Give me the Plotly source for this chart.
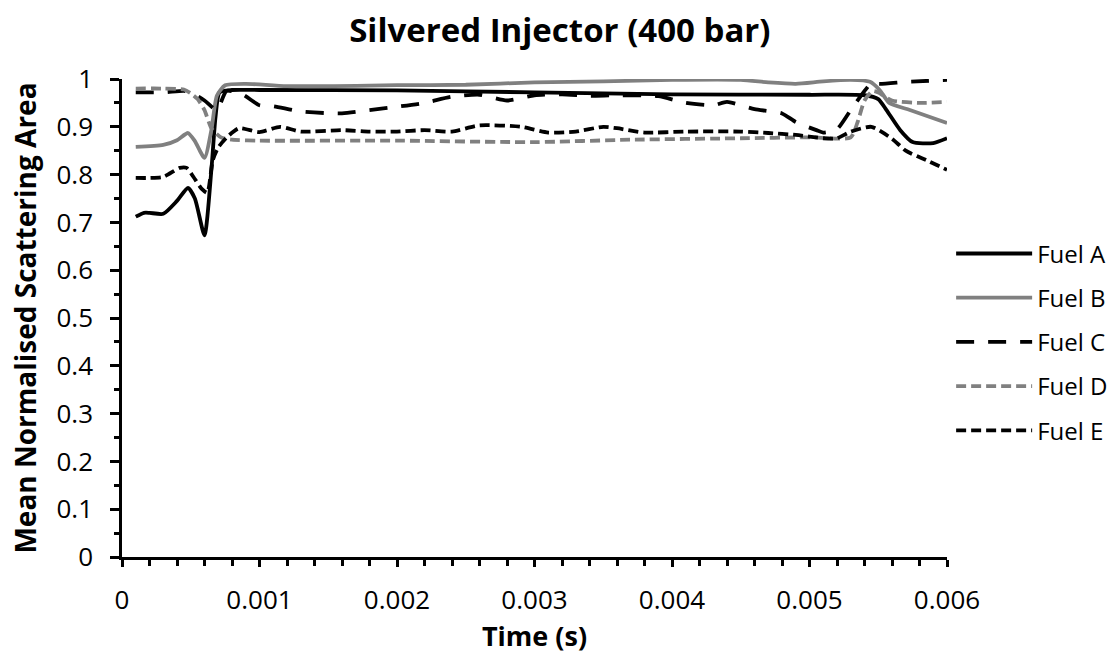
import plotly.graph_objects as go

# ---- data ----
t_a = [0.0001, 0.00016, 0.0002, 0.0003, 0.0004, 0.00048, 0.00053, 0.0006, 0.00065, 0.00068, 0.00071, 0.0008,
       0.001, 0.002, 0.003, 0.004, 0.005, 0.0054, 0.0055, 0.00556, 0.00566, 0.00575, 0.0059, 0.006]
v_a = [0.712, 0.72, 0.72, 0.718, 0.745, 0.772, 0.75, 0.673, 0.81, 0.92, 0.972, 0.977,
       0.977, 0.976, 0.972, 0.968, 0.967, 0.966, 0.958, 0.935, 0.893, 0.868, 0.866, 0.876]

t_b = [0.0001, 0.0003, 0.0004, 0.00048, 0.00053, 0.0006, 0.00065, 0.00069, 0.00075, 0.0009, 0.0012, 0.002,
       0.0025, 0.003, 0.0035, 0.004, 0.0045, 0.0047, 0.0049, 0.0051, 0.0053, 0.00544, 0.00551, 0.00558,
       0.00573, 0.006]
v_b = [0.858, 0.862, 0.872, 0.887, 0.87, 0.835, 0.893, 0.965, 0.987, 0.99, 0.985, 0.987,
       0.988, 0.993, 0.995, 0.998, 0.998, 0.993, 0.99, 0.995, 0.998, 0.994, 0.977, 0.95,
       0.935, 0.908]

t_c = [0.0001, 0.0003, 0.00045, 0.0005, 0.0006, 0.00069, 0.00076, 0.00088, 0.001, 0.0011, 0.0013, 0.0016,
       0.0018, 0.002, 0.0022, 0.0024, 0.0026, 0.0028, 0.003, 0.0032, 0.0034, 0.0036, 0.0039, 0.0041,
       0.0043, 0.0044, 0.0046, 0.0048, 0.0049, 0.00505, 0.0051, 0.0052, 0.0053, 0.0054, 0.00546, 0.0055,
       0.0057, 0.006]
v_c = [0.972, 0.972, 0.975, 0.972, 0.955, 0.935, 0.975, 0.967, 0.945, 0.943, 0.932, 0.928,
       0.935, 0.942, 0.95, 0.963, 0.967, 0.955, 0.966, 0.968, 0.965, 0.966, 0.964, 0.95,
       0.945, 0.952, 0.937, 0.928, 0.91, 0.893, 0.888, 0.895, 0.935, 0.975, 0.994, 0.99,
       0.994, 0.998]

t_d = [0.0001, 0.0003, 0.00045, 0.0005, 0.00055, 0.0006, 0.00065, 0.00072, 0.0008, 0.001, 0.002, 0.003,
       0.0037, 0.0045, 0.005, 0.0053, 0.00535, 0.0054, 0.00546, 0.0055, 0.0056, 0.0058, 0.006]
v_d = [0.98, 0.98, 0.978, 0.97, 0.958, 0.935, 0.897, 0.878, 0.873, 0.871, 0.871, 0.868,
       0.873, 0.876, 0.878, 0.878, 0.91, 0.955, 0.975, 0.972, 0.955, 0.95, 0.952]

t_e = [0.0001, 0.0002, 0.0003, 0.00042, 0.00047, 0.00052, 0.00058, 0.00062, 0.00066, 0.0007, 0.00077, 0.00085,
       0.001, 0.00115, 0.0013, 0.0016, 0.0018, 0.002, 0.0022, 0.0024, 0.0026, 0.0029, 0.0031, 0.0033,
       0.0035, 0.0036, 0.0038, 0.0041, 0.0045, 0.0047, 0.0049, 0.0051, 0.0052, 0.0053, 0.00545, 0.0056,
       0.0057, 0.00585, 0.006]
v_e = [0.793, 0.793, 0.795, 0.814, 0.814, 0.795, 0.77, 0.762, 0.83, 0.857, 0.88, 0.897,
       0.889, 0.9, 0.89, 0.893, 0.89, 0.89, 0.893, 0.89, 0.903, 0.9, 0.888, 0.89,
       0.9, 0.897, 0.888, 0.89, 0.89, 0.887, 0.883, 0.876, 0.876, 0.89, 0.9, 0.875,
       0.85, 0.83, 0.81]

series_names = ["Fuel A", "Fuel B", "Fuel C", "Fuel D", "Fuel E"]

x_tickvals = [0, 0.001, 0.002, 0.003, 0.004, 0.005, 0.006]
x_ticktext = ["0", "0.001", "0.002", "0.003", "0.004", "0.005", "0.006"]
y_tickvals = [0, 0.1, 0.2, 0.3, 0.4, 0.5, 0.6, 0.7, 0.8, 0.9, 1]
y_ticktext = ["0", "0.1", "0.2", "0.3", "0.4", "0.5", "0.6", "0.7", "0.8", "0.9", "1"]

# ---- styles ----
BLACK = "#000000"
GREY = "#808080"
styles = [
    dict(color=BLACK, dash="solid"),
    dict(color=GREY, dash="solid"),
    dict(color=BLACK, dash="18px,14px"),
    dict(color=GREY, dash="10px,5px"),
    dict(color=BLACK, dash="10px,5px"),
]
FONT = "Open Sans"

fig = go.Figure()
for i, (tx, vy) in enumerate([(t_a, v_a), (t_b, v_b), (t_c, v_c), (t_d, v_d), (t_e, v_e)]):
    fig.add_trace(go.Scatter(
        x=tx, y=vy, mode="lines", name=series_names[i], legendgroup=series_names[i],
        line=dict(color=styles[i]["color"], dash=styles[i]["dash"], width=3.8, shape="spline", smoothing=0.6),
    ))

axis_common = dict(showgrid=False, zeroline=False, showline=True, linecolor="black", linewidth=2.5,
                   ticks="outside", tickcolor="black", tickwidth=2.5,
                   tickfont=dict(family=FONT, size=26, color="black"))

fig.update_layout(
    width=1113, height=657,
    margin=dict(l=122, r=166, t=79, b=100, autoexpand=False),
    paper_bgcolor="white", plot_bgcolor="white",
    title=dict(text="<b>Silvered Injector (400 bar)</b>", x=0.503, xanchor="center", y=0.953, yanchor="middle",
               font=dict(family=FONT, size=33, color="black")),
    xaxis=dict(range=[0, 0.006], tickmode="array", tickvals=x_tickvals, ticktext=x_ticktext,
               ticklen=7, ticklabelstandoff=11,
               minor=dict(tickmode="linear", tick0=0, dtick=0.0002, ticks="outside", ticklen=6,
                          tickwidth=2.5, tickcolor="black"),
               title=dict(text="<b>Time (s)</b>", font=dict(family=FONT, size=27, color="black"), standoff=0),
               **axis_common),
    yaxis=dict(range=[0, 1], tickmode="array", tickvals=y_tickvals, ticktext=y_ticktext,
               ticklen=9, ticklabelstandoff=12,
               minor=dict(tickmode="linear", tick0=0, dtick=0.05, ticks="outside", ticklen=5,
                          tickwidth=2.5, tickcolor="black"),
               title=dict(text="<b>Mean Normalised Scattering Area</b>",
                          font=dict(family=FONT, size=28, color="black"), standoff=12),
               **axis_common),
    legend=dict(x=1.005, xanchor="left", y=0.45, yanchor="middle", tracegroupgap=10,
                itemwidth=76, font=dict(family=FONT, size=24, color="black"), bgcolor="rgba(0,0,0,0)"),
)

fig.write_html("out.html")
